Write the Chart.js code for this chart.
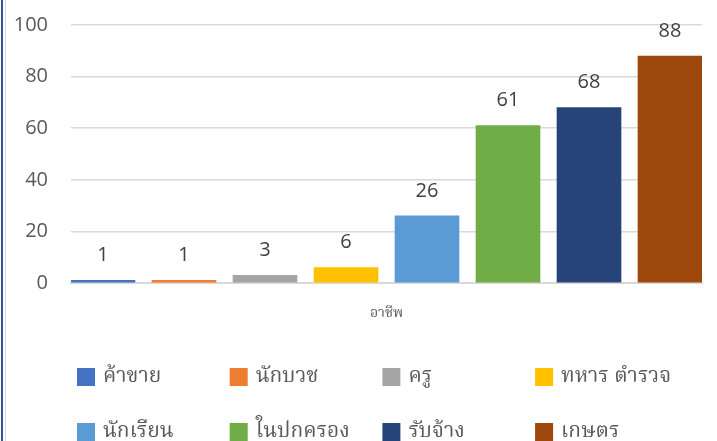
<!DOCTYPE html>
<html>
<head>
<meta charset="utf-8">
<script src="https://cdn.jsdelivr.net/npm/chart.js@4/dist/chart.umd.min.js"></script>
<style>
  html, body { margin: 0; padding: 0; background: #fff; overflow: hidden; }
  #wrap { position: relative; width: 717px; height: 441px; }
  #edge1 { position: absolute; left: 1px; top: 0; width: 2px; height: 441px; background: #2F5597; }
  #edge2 { position: absolute; left: 5px; top: 0; width: 1px; height: 441px; background: #d9d9d9; }
</style>
</head>
<body>
<div id="wrap">
  <canvas id="jobChart" width="717" height="441"></canvas>
  <div id="edge1"></div>
  <div id="edge2"></div>
</div>
<script>
// data
const categories = ['ค้าขาย', 'นักบวช', 'ครู', 'ทหาร ตำรวจ', 'นักเรียน', 'ในปกครอง', 'รับจ้าง', 'เกษตร'];
const counts = [1, 1, 3, 6, 26, 61, 68, 88];
const barColors = ['#4472C4', '#ED7D31', '#A5A5A5', '#FFC000', '#5B9BD5', '#70AD47', '#264478', '#9E480E'];
const yTicks = [0, 20, 40, 60, 80, 100];
const axisTitle = 'อาชีพ';

const numFont = '"Open Sans", "Liberation Sans", sans-serif';
const thaiFont = '"Noto Serif Thai", "Noto Sans Thai Looped", "Noto Sans Thai", "Tlwg Typo", "Garuda", "DejaVu Sans", sans-serif';

// numbers over each bar
const valueLabels = {
    id: 'valueLabels',
    afterDatasetsDraw(chart) {
        const ctx = chart.ctx;
        const meta = chart.getDatasetMeta(0);
        ctx.save();
        ctx.font = '20px ' + numFont;
        ctx.fillStyle = '#404040';
        ctx.textAlign = 'center';
        ctx.textBaseline = 'middle';
        meta.data.forEach((bar, i) => {
            ctx.fillText(String(counts[i]), bar.x, bar.y - 25);
        });
        ctx.restore();
    }
};

// legend laid out in 4 fixed columns like the original
const gridLegend = {
    id: 'gridLegend',
    afterDraw(chart) {
        const ctx = chart.ctx;
        ctx.save();
        ctx.font = '21px ' + thaiFont;
        ctx.textBaseline = 'middle';
        ctx.textAlign = 'left';
        categories.forEach((name, i) => {
            const col = i % 4;
            const row = Math.floor(i / 4);
            const x = 77 + col * 152.7;
            const y = 368 + row * 55;
            ctx.fillStyle = barColors[i];
            ctx.fillRect(x, y, 18, 18);
            ctx.fillStyle = '#595959';
            ctx.fillText(name, x + 26, y + 11);
        });
        ctx.restore();
    }
};

document.addEventListener('DOMContentLoaded', function() {
    const ctx = document.getElementById('jobChart').getContext('2d');
    new Chart(ctx, {
        type: 'bar',
        data: {
            datasets: [{
                label: axisTitle,
                data: counts.map((v, i) => ({ x: i, y: v })),
                backgroundColor: barColors,
                borderWidth: 0,
                barThickness: 64
            }]
        },
        options: {
            responsive: false,
            animation: false,
            layout: { padding: { left: 0, right: 15, top: 25, bottom: 108 } },
            plugins: {
                legend: { display: false },
                tooltip: { enabled: false }
            },
            scales: {
                x: {
                    type: 'linear',
                    offset: false,
                    min: -0.395,
                    max: categories.length - 1 + 0.395,
                    grid: { display: false },
                    border: { display: true, color: '#d9d9d9', width: 2 },
                    ticks: { display: false, stepSize: 1, includeBounds: false },
                    title: {
                        display: true,
                        text: axisTitle,
                        color: '#595959',
                        font: { family: thaiFont, size: 14 },
                        padding: { top: 0, bottom: 10 }
                    },
                    afterFit(scale) { scale.height = 50; }
                },
                y: {
                    min: 0,
                    max: 100,
                    afterBuildTicks(scale) {
                        scale.ticks = yTicks.map(v => ({ value: v }));
                    },
                    grid: { color: '#d9d9d9', lineWidth: 1.5, drawTicks: false },
                    border: { display: false },
                    ticks: {
                        color: '#595959',
                        padding: 23,
                        font: { family: numFont, size: 20 }
                    },
                    afterFit(scale) {
                        scale.width = 71;
                        scale.paddingTop = 0;
                        scale.paddingBottom = 0;
                    }
                }
            }
        },
        plugins: [valueLabels, gridLegend]
    });
});
</script>
</body>
</html>
